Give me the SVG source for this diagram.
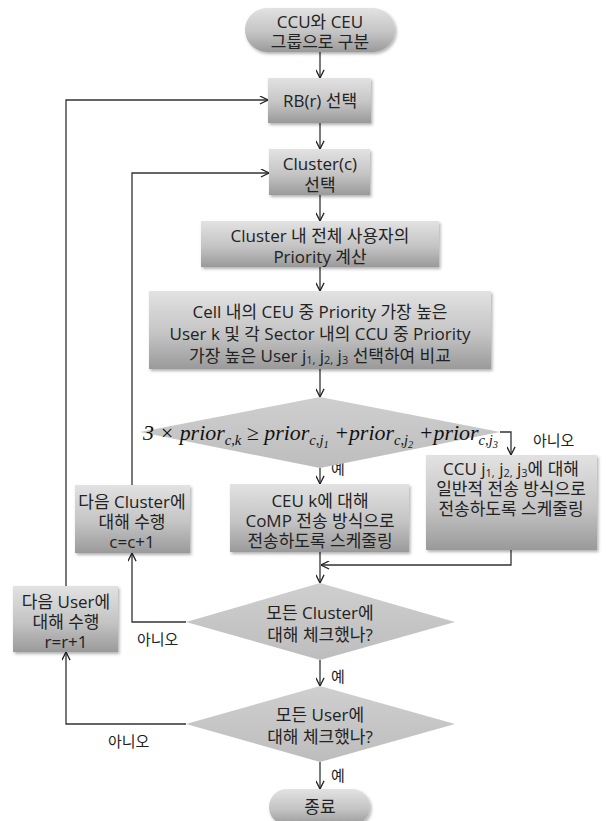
<svg xmlns="http://www.w3.org/2000/svg" width="606" height="821" viewBox="0 0 606 821">
<defs>
<linearGradient id="g" x1="0" y1="0" x2="0" y2="1">
<stop offset="0" stop-color="#e2e2e2"/>
<stop offset="0.55" stop-color="#c4c4c4"/>
<stop offset="1" stop-color="#9a9a9a"/>
</linearGradient>
<linearGradient id="gd" x1="0" y1="0" x2="0" y2="1">
<stop offset="0" stop-color="#cfcfcf"/>
<stop offset="1" stop-color="#bdbdbd"/>
</linearGradient>
<filter id="sh" x="-10%" y="-10%" width="125%" height="130%">
<feDropShadow dx="1.5" dy="2" stdDeviation="1.5" flood-color="#000" flood-opacity="0.3"/>
</filter>
<marker id="ar" viewBox="0 0 10 10" refX="10" refY="5" markerWidth="9" markerHeight="9" markerUnits="userSpaceOnUse" orient="auto">
<path d="M1,0.5 L10,5 L1,9.5" fill="none" stroke="#222" stroke-width="1.4"/>
</marker>
</defs>
<style>
.box{fill:url(#g);filter:url(#sh)}
.dia{fill:url(#gd)}
.t{font-family:"Open Sans","Noto Sans CJK KR",sans-serif;font-size:17px;fill:#222;text-anchor:middle;dominant-baseline:central}
.lb{font-family:"Open Sans","Noto Sans CJK KR",sans-serif;font-size:15px;fill:#222;dominant-baseline:central}
.sub{font-size:11px}
.c{fill:none;stroke:#333;stroke-width:1.3}
.f{font-family:"Liberation Serif",serif;font-size:21px;font-style:italic;fill:#111}
.fs{font-size:14px}
.fss{font-size:10px}
</style>
<rect width="606" height="821" fill="#fff"/>

<g id="connectors">
<path class="c" d="M320,52 V78" marker-end="url(#ar)"/>
<path class="c" d="M320,123 V149" marker-end="url(#ar)"/>
<path class="c" d="M320,195 V221" marker-end="url(#ar)"/>
<path class="c" d="M320,267 V291" marker-end="url(#ar)"/>
<path class="c" d="M320,369 V397" marker-end="url(#ar)"/>
<path class="c" d="M320,468 V484" marker-end="url(#ar)"/>
<path class="c" d="M500,432 H511 V455" marker-end="url(#ar)"/>
<path class="c" d="M320,552 V583" marker-end="url(#ar)"/>
<path class="c" d="M511,550 V565 H321" marker-end="url(#ar)"/>
<path class="c" d="M186,622 H132 V553" marker-end="url(#ar)"/>
<path class="c" d="M132,485 V173 H269" marker-end="url(#ar)"/>
<path class="c" d="M320,660 V686" marker-end="url(#ar)"/>
<path class="c" d="M186,724 H66 V652" marker-end="url(#ar)"/>
<path class="c" d="M66,586 V100 H268" marker-end="url(#ar)"/>
<path class="c" d="M320,762 V789" marker-end="url(#ar)"/>
<text class="lb" x="331" y="468">예</text>
<text class="lb" x="533" y="440">아니오</text>
<text class="lb" x="137" y="639">아니오</text>
<text class="lb" x="331" y="676">예</text>
<text class="lb" x="108" y="741">아니오</text>
<text class="lb" x="331" y="775">예</text>
</g>

<g id="start">
<rect class="box" x="245" y="8" width="150" height="44" rx="22"/>
<text class="t" x="320" y="21">CCU와 CEU</text>
<text class="t" x="320" y="41">그룹으로 구분</text>
</g>

<g id="rb">
<rect class="box" x="268" y="78" width="103" height="45"/>
<text class="t" x="320" y="100">RB(r) 선택</text>
</g>

<g id="cluster">
<rect class="box" x="269" y="149" width="101" height="46"/>
<text class="t" x="320" y="163">Cluster(c)</text>
<text class="t" x="320" y="184">선택</text>
</g>

<g id="priority">
<rect class="box" x="201" y="221" width="238" height="46"/>
<text class="t" x="320" y="235">Cluster 내 전체 사용자의</text>
<text class="t" x="320" y="256">Priority 계산</text>
</g>

<g id="compare">
<rect class="box" x="149" y="291" width="342" height="78"/>
<text class="t" x="320" y="311">Cell 내의 CEU 중 Priority 가장 높은</text>
<text class="t" x="320" y="333">User k 및 각 Sector 내의 CCU 중 Priority</text>
<text class="t" x="320" y="355">가장 높은 User j<tspan class="sub" dy="4">1,</tspan><tspan dy="-4"> j</tspan><tspan class="sub" dy="4">2,</tspan><tspan dy="-4"> j</tspan><tspan class="sub" dy="4">3</tspan><tspan dy="-4"> 선택하여 비교</tspan></text>
</g>

<g id="condition">
<polygon class="dia" points="320,397 500,432 320,468 140,432"/>
<text class="f" x="143" y="440" textLength="355" lengthAdjust="spacingAndGlyphs">3 × prior<tspan class="fs" dy="5">c,k</tspan><tspan dy="-5"> ≥ prior</tspan><tspan class="fs" dy="5">c,j</tspan><tspan class="fss" dy="3">1</tspan><tspan dy="-8"> +prior</tspan><tspan class="fs" dy="5">c,j</tspan><tspan class="fss" dy="3">2</tspan><tspan dy="-8"> +prior</tspan><tspan class="fs" dy="5">c,j</tspan><tspan class="fss" dy="3">3</tspan></text>
</g>

<g id="comp">
<rect class="box" x="230" y="484" width="179" height="68"/>
<text class="t" x="320" y="500">CEU k에 대해</text>
<text class="t" x="320" y="520">CoMP 전송 방식으로</text>
<text class="t" x="320" y="540">전송하도록 스케줄링</text>
</g>

<g id="normal">
<rect class="box" x="426" y="455" width="171" height="95"/>
<text class="t" x="511" y="468">CCU j<tspan class="sub" dy="4">1,</tspan><tspan dy="-4"> j</tspan><tspan class="sub" dy="4">2,</tspan><tspan dy="-4"> j</tspan><tspan class="sub" dy="4">3</tspan><tspan dy="-4">에 대해</tspan></text>
<text class="t" x="511" y="488">일반적 전송 방식으로</text>
<text class="t" x="511" y="508">전송하도록 스케줄링</text>
</g>

<g id="nextcluster">
<rect class="box" x="75" y="485" width="115" height="68"/>
<text class="t" x="132" y="501">다음 Cluster에</text>
<text class="t" x="132" y="521">대해 수행</text>
<text class="t" x="132" y="541">c=c+1</text>
</g>

<g id="allcluster">
<polygon class="dia" points="320,583 455,622 320,660 186,622"/>
<text class="t" x="320" y="612">모든 Cluster에</text>
<text class="t" x="320" y="634">대해 체크했나?</text>
</g>

<g id="nextuser">
<rect class="box" x="13" y="586" width="105" height="66"/>
<text class="t" x="66" y="601">다음 User에</text>
<text class="t" x="66" y="621">대해 수행</text>
<text class="t" x="66" y="641">r=r+1</text>
</g>

<g id="alluser">
<polygon class="dia" points="320,686 455,724 320,762 186,724"/>
<text class="t" x="320" y="714">모든 User에</text>
<text class="t" x="320" y="736">대해 체크했나?</text>
</g>

<g id="end">
<rect class="box" x="269" y="789" width="101" height="36" rx="18"/>
<text class="t" x="320" y="806">종료</text>
</g>
</svg>
